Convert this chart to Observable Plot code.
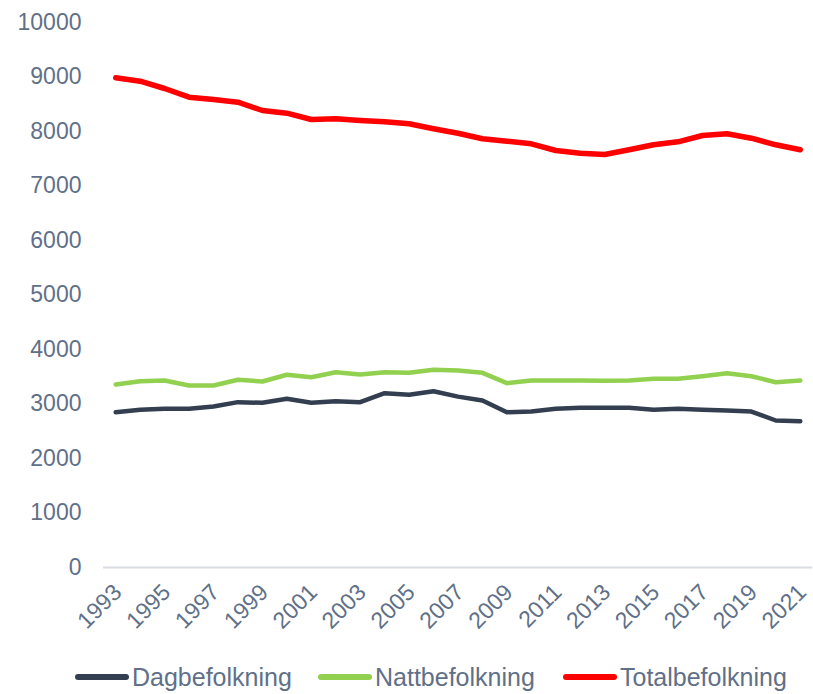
<!DOCTYPE html>
<html>
<head>
<meta charset="utf-8">
<script src="https://cdn.jsdelivr.net/npm/d3@7"></script>
<script src="https://cdn.jsdelivr.net/npm/@observablehq/plot@0.6"></script>
<style>
  body { margin: 0; background: #fff; font-family: "Liberation Sans", Arial, sans-serif; overflow: hidden; }
  #legend { position: relative; height: 54px; color: #5f7088; font-size: 25px; }
  .item { position: absolute; top: 0; height: 54px; display: flex; align-items: center; padding-top: 20px; box-sizing: border-box; }
  .sw { width: 54px; height: 6px; border-radius: 3px; margin-right: 3px; }
</style>
</head>
<body>
<div id="chart"></div>
<div id="legend"></div>
<script>
const years = [1993,1994,1995,1996,1997,1998,1999,2000,2001,2002,2003,2004,2005,2006,2007,2008,2009,2010,2011,2012,2013,2014,2015,2016,2017,2018,2019,2020,2021];
const dagbefolkning = [2850,2893,2911,2911,2954,3034,3022,3095,3022,3052,3034,3199,3168,3235,3135,3064,2850,2862,2911,2930,2930,2930,2893,2911,2893,2881,2862,2697,2685];
const nattbefolkning = [3358,3419,3431,3339,3339,3444,3413,3536,3492,3584,3541,3584,3572,3627,3615,3572,3382,3431,3431,3431,3425,3431,3462,3462,3510,3565,3510,3400,3431];
const totalbefolkning = [8985,8923,8789,8630,8587,8538,8385,8336,8220,8233,8202,8178,8141,8050,7967,7866,7822,7774,7651,7602,7578,7664,7756,7811,7927,7958,7877,7756,7664];
const seriesNames = ["Dagbefolkning", "Nattbefolkning", "Totalbefolkning"];
const seriesColors = ["#333f50", "#92d050", "#ff0000"];
const yTicks = [0,1000,2000,3000,4000,5000,6000,7000,8000,9000,10000];
const xTicks = [1993,1995,1997,1999,2001,2003,2005,2007,2009,2011,2013,2015,2017,2019,2021];

const seriesValues = [dagbefolkning, nattbefolkning, totalbefolkning];
const rows = (vals) => years.map((y, i) => ({year: y, value: vals[i]}));

const textColor = "#5f7088";
const chart = Plot.plot({
  width: 813,
  height: 640,
  marginTop: 22,
  marginBottom: 73,
  marginLeft: 103,
  marginRight: 1,
  style: { fontFamily: "'Liberation Sans', Arial, sans-serif", fontSize: "23px", color: textColor, background: "#fff" },
  x: { domain: [1992.5, 2021.5] },
  y: { domain: [0, 10000] },
  marks: [
    Plot.axisY({ ticks: yTicks, tickSize: 0, tickPadding: 22, tickFormat: d => String(d), label: null, fontSize: 23 }),
    Plot.axisX({ ticks: xTicks, tickSize: 0, tickPadding: 21, tickRotate: -45, tickFormat: d => String(d), label: null, fontSize: 23, dx: 2 }),
    Plot.ruleY([0], { stroke: "#d9dde3", strokeWidth: 2 }),
    ...seriesValues.map((vals, i) => Plot.lineY(rows(vals), {
      x: "year", y: "value", stroke: seriesColors[i], strokeWidth: i === 2 ? 5.5 : 4.5,
      strokeLinejoin: "round", strokeLinecap: "round"
    }))
  ]
});
document.getElementById("chart").appendChild(chart);

const legend = document.getElementById("legend");
const lefts = [75, 318, 563];
seriesNames.forEach((name, i) => {
  const item = document.createElement("div");
  item.className = "item";
  item.style.left = lefts[i] + "px";
  const sw = document.createElement("div");
  sw.className = "sw";
  sw.style.background = seriesColors[i];
  const t = document.createElement("span");
  t.textContent = name;
  item.appendChild(sw);
  item.appendChild(t);
  legend.appendChild(item);
});
</script>
</body>
</html>
